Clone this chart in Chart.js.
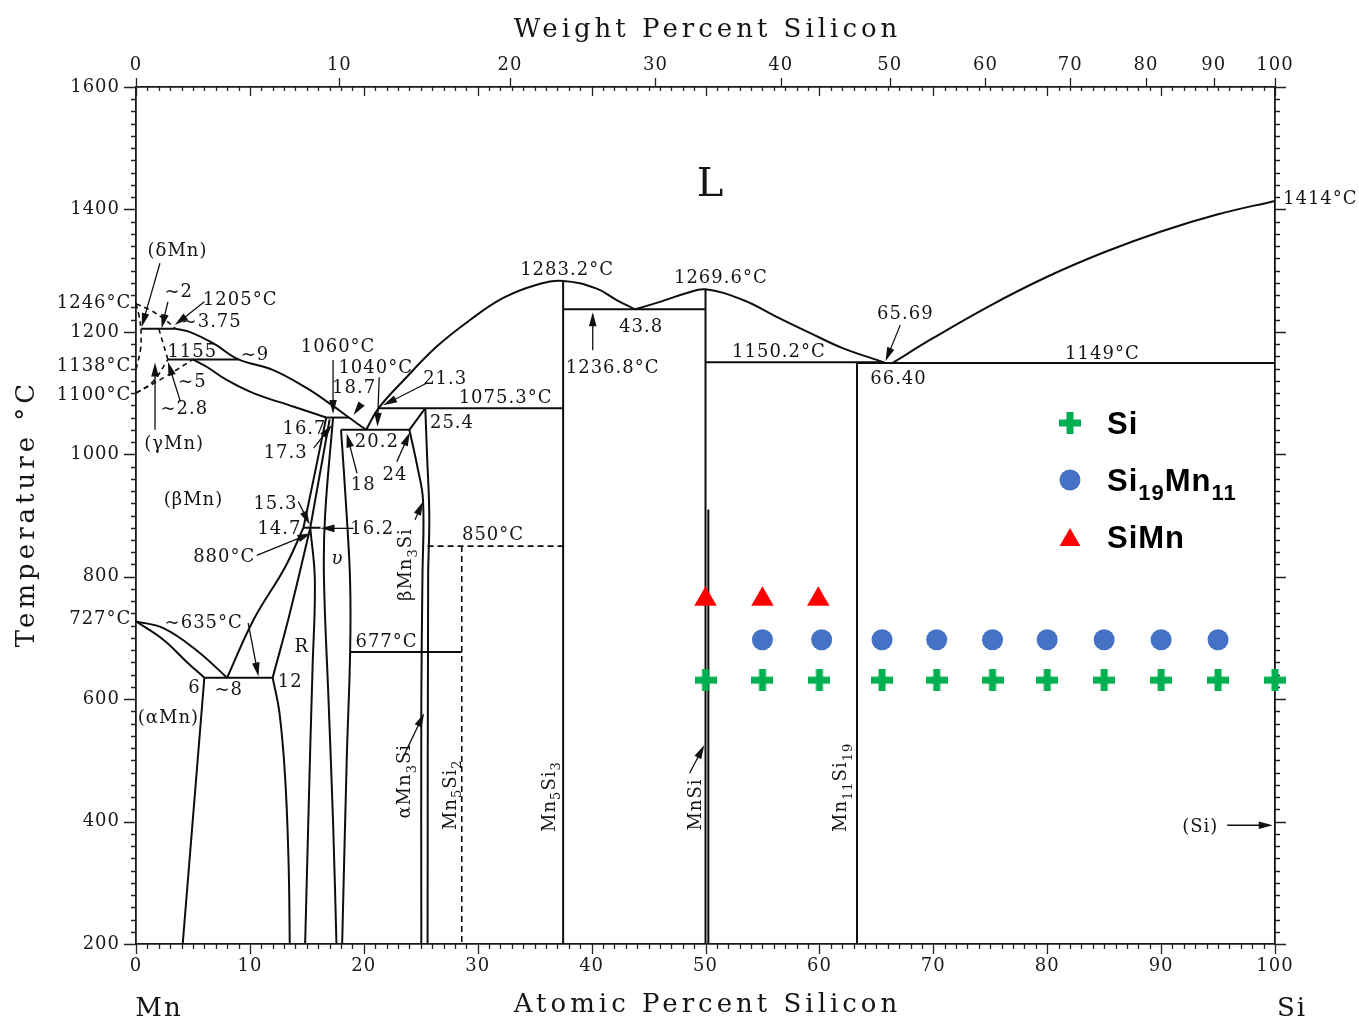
<!DOCTYPE html>
<html>
<head>
<meta charset="utf-8">
<title>Mn–Si phase diagram</title>
<script src="https://cdn.jsdelivr.net/npm/chart.js@4.4.1/dist/chart.umd.min.js"></script>
<style>
  html, body { margin: 0; padding: 0; background: #fff; }
  #wrap { width: 1359px; height: 1020px; }
</style>
</head>
<body>
<div id="wrap"><canvas id="c" width="1359" height="1020"></canvas></div>
<script>
// ---- axis tick values ----
const atTicks = [0, 10, 20, 30, 40, 50, 60, 70, 80, 90, 100];      // atomic % Si (bottom)
const wtTicks = [0, 10, 20, 30, 40, 50, 60, 70, 80, 90, 100];      // weight % Si (top)
const tempTicks = [200, 400, 600, 800, 1000, 1200, 1400, 1600];    // °C

// ---- measured phases (atomic % Si, °C) ----
const siAt = [50, 55, 60, 65.5, 70.3, 75.2, 80, 85, 90, 95, 100];
const siTemp = [631, 631, 631, 631, 631, 631, 631, 631, 631, 631, 631];
const si19mn11At = [55, 60.2, 65.5, 70.3, 75.2, 80, 85, 90, 95];
const si19mn11Temp = [697, 697, 697, 697, 697, 697, 697, 697, 697];
const simnAt = [50, 55, 59.9];
const simnTemp = [763, 763, 763];

// ---- liquidus ----
const liqMn = [[3.5,1205],[4.7,1200],[6.8,1181],[9.0,1155],[12.0,1138],[15.0,1108],[17.3,1079],[18.7,1060],[20.2,1040]];
const liqMn5Si3 = [[20.2,1040],[21.3,1075.3],[23.5,1121],[26.4,1176],[29.3,1219],[32.2,1255],[35.2,1277],[37.5,1283.2],[40.4,1271],[42.2,1252],[43.8,1236.8]];
const liqMnSi = [[43.8,1236.8],[46.0,1249],[48.3,1263],[50.0,1269.6],[53.3,1252],[56.2,1225],[59.2,1198],[62.1,1173],[65.69,1150.2]];
const liqSi = [[66.4,1149],[70,1190],[75,1243],[80,1290],[85,1330],[90,1364],[95,1392],[100,1414]];

// ---- invariant lines ----
const iso1236 = [[37.5,1236.8],[50,1236.8]];
const iso1150 = [[50,1150.2],[65.69,1150.2]];
const iso1149 = [[63.3,1149],[100,1149]];
const iso1075 = [[21.3,1075.3],[37.5,1075.3]];
const iso1060 = [[16.7,1060],[18.7,1060]];
const iso1040 = [[18.0,1040],[24.0,1040]];
const iso1205 = [[0.45,1205],[3.5,1205]];
const iso1155 = [[2.8,1155],[9.0,1155]];
const iso880 = [[14.7,880],[16.2,880]];
const iso677 = [[18.8,677],[28.6,677]];
const iso635 = [[6,635],[12,635]];
const iso850 = [[25.6,850],[37.5,850]];

// ---- compounds ----
const mn5si3 = [[37.5,1283.2],[37.5,200]];
const mnsiA = [[50,1269.6],[50,200]];
const mnsiB = [[50.25,910],[50.25,200]];
const mn11si19 = [[63.3,1150.2],[63.3,200]];
const siLine = [[100,1414],[100,200]];
const mn5si2 = [[28.6,850],[28.6,200]];
const mn3siTop = [[24.0,1040],[25.4,1075.3]];
const mn3siLeft = [[24.0,1040],[24.7,980],[25.2,925],[25.15,800],[25.05,600],[25.05,200]];
const mn3siRight = [[25.4,1075.3],[25.55,1000],[25.75,900],[25.65,800],[25.6,200]];

// ---- Mn-rich solid solutions ----
const betaSolidus = [[5.0,1155],[6.2,1143],[8.0,1121],[10.3,1100],[13.8,1078],[16.7,1060]];
const alphaUpper = [[0,727],[2.4,716],[5.3,680],[8,635]];
const alphaLower = [[0,727],[2.4,697],[4.5,660],[6,635]];
const alphaSolvus = [[6,635],[4.1,200]];
const betaToR = [[8,635],[10.3,729],[13.1,816],[14.7,880]];
const rUpper = [[12,635],[13.5,740],[15.3,880]];
const rLower = [[12,635],[12.6,577],[13.1,470],[13.4,330],[13.5,200]];
const rRight = [[15.3,880],[15.7,795],[15.5,650],[15.3,522],[14.85,200]];
const betaEdgeA = [[16.7,1060],[15.6,960],[14.7,880]];
const betaEdgeB = [[17.0,1057],[15.3,880]];
const nuLeft = [[17.3,1060],[16.6,900],[16.5,800],[16.9,600],[17.3,400],[17.6,200]];
const nuRight = [[18.0,1040],[18.5,900],[18.8,790],[18.8,677],[18.5,500],[18.1,200]];

// ---- uncertain (dashed) boundaries near pure Mn ----
const dLiqDelta = [[0,1246],[1.2,1236],[2.4,1222],[3.5,1205]];
const dSolDelta = [[0,1246],[0.25,1228],[0.45,1205]];
const dDeltaGamma = [[0.45,1205],[0.4,1172],[0,1138]];
const dGammaSol = [[2.0,1205],[2.4,1180],[2.8,1155]];
const dGammaLow = [[0,1100],[1.5,1119],[2.8,1155]];
const dBetaHigh = [[0,1100],[2.6,1127],[5.0,1155]];

// ---- text labels [text, at.% Si, °C, options] ----
const notes = [
  ['L', 50.4, 1445, {size: 40, ls: 0}],
  ['1414°C', 100.7, 1419, {align: 'left'}],
  ['1283.2°C', 37.8, 1304],
  ['1269.6°C', 51.3, 1291],
  ['65.69', 67.5, 1232],
  ['1150.2°C', 56.4, 1170],
  ['1149°C', 84.8, 1166],
  ['66.40', 66.9, 1125],
  ['43.8', 44.3, 1211],
  ['1236.8°C', 41.8, 1143],
  ['1075.3°C', 32.4, 1095],
  ['25.4', 27.7, 1053],
  ['21.3', 27.1, 1126],
  ['1040°C', 21.0, 1143],
  ['1060°C', 17.7, 1177],
  ['18.7', 19.1, 1110],
  ['20.2', 21.1, 1022],
  ['24', 22.7, 968],
  ['18', 19.9, 953],
  ['16.7', 14.75, 1043],
  ['17.3', 13.1, 1004],
  ['(δMn)', 3.6, 1335],
  ['1246°C', -0.5, 1249, {align: 'right'}],
  ['~2', 3.7, 1268],
  ['1205°C', 9.1, 1255],
  ['~3.75', 6.6, 1218],
  ['1155', 4.9, 1169],
  ['~9', 10.4, 1164],
  ['1138°C', -0.5, 1146, {align: 'right'}],
  ['1100°C', -0.5, 1100, {align: 'right'}],
  ['~5', 4.9, 1120],
  ['~2.8', 4.2, 1076],
  ['(γMn)', 3.3, 1020],
  ['(βMn)', 5.0, 927],
  ['15.3', 12.2, 922],
  ['14.7', 12.55, 880],
  ['16.2', 20.7, 880],
  ['880°C', 7.7, 834],
  ['υ', 17.65, 831, {italic: true}],
  ['βMn_{3}Si', 23.6, 819, {rot: -90}],
  ['850°C', 31.3, 870],
  ['727°C', -0.5, 733, {align: 'right'}],
  ['~635°C', 5.9, 726],
  ['R', 14.5, 687],
  ['677°C', 21.95, 695],
  ['6', 5.1, 621],
  ['~8', 8.1, 617],
  ['12', 13.5, 631],
  ['(αMn)', 2.8, 571],
  ['αMn_{3}Si', 23.5, 465, {rot: -90}],
  ['Mn_{5}Si_{2}', 27.5, 443, {rot: -90}],
  ['Mn_{5}Si_{3}', 36.2, 440, {rot: -90}],
  ['MnSi', 49.0, 427, {rot: -90}],
  ['Mn_{11}Si_{19}', 61.8, 455, {rot: -90}],
  ['(Si)', 93.4, 394]
];

// ---- leader arrows [from at.%, °C, to at.%, °C] ----
const pointers = [
  [2.1,1312, 0.5,1208],
  [2.8,1249, 2.25,1206],
  [6.0,1249, 3.4,1211],
  [3.9,1086, 2.8,1151],
  [1.67,1040, 1.67,1150],
  [17.3,1154, 17.3,1066],
  [21.35,1126, 21.2,1045],
  [19.7,1080, 19.1,1064],
  [25.5,1116, 21.7,1080],
  [15.6,1010, 17.2,1048],
  [19.4,969, 18.5,1034],
  [22.9,988, 24.05,1036],
  [24.5,893, 25.2,923],
  [14.25,923, 15.25,885],
  [19.1,879, 16.2,879],
  [10.6,835, 15.4,871],
  [9.85,724, 10.75,637],
  [23.6,511, 25.3,577],
  [48.6,479, 49.9,525],
  [40.1,1170, 40.1,1232],
  [67.1,1211, 65.8,1152],
  [95.8,394, 99.8,394]
];

const legendItems = [
  {label: 'Si', kind: 'plus'},
  {label: 'Si_{19}Mn_{11}', kind: 'circle', color: '#4472C4'},
  {label: 'SiMn', kind: 'triangle', color: '#FF0000'}
];

// weight % Si -> atomic % Si
const M_SI = 28.0855, M_MN = 54.938;
function wtToAt(w) {
  if (w <= 0) return 0;
  if (w >= 100) return 100;
  const a = w / M_SI, b = (100 - w) / M_MN;
  return 100 * a / (a + b);
}

// thick green plus used as a point style
function makePlus(color, size, thick) {
  const c = document.createElement('canvas');
  c.width = size; c.height = size;
  const g = c.getContext('2d');
  g.fillStyle = color;
  const o = (size - thick) / 2;
  g.fillRect(o, 0, thick, size);
  g.fillRect(0, o, size, thick);
  return c;
}
const plusImg = makePlus('#00B050', 22, 7);

const pts = (xs, ys) => xs.map((x, i) => ({x, y: ys[i]}));
function line(data, opts = {}) {
  return {
    data: data.map(([x, y]) => ({x, y})),
    showLine: true,
    pointRadius: 0,
    pointHoverRadius: 0,
    borderColor: '#0d0d0d',
    borderWidth: opts.width || 2,
    borderDash: opts.dash || [],
    tension: opts.tension || 0,
    fill: false
  };
}
const curve = d => line(d, {tension: 0.4});
const dashed = d => line(d, {tension: 0.4, dash: [5, 4], width: 1.6});

const datasets = [
  {label: 'SiMn', data: pts(simnAt, simnTemp), pointStyle: 'triangle', pointRadius: 13,
   backgroundColor: '#FF0000', borderWidth: 0, clip: false},
  {label: 'Si19Mn11', data: pts(si19mn11At, si19mn11Temp), pointStyle: 'circle', pointRadius: 10.5,
   backgroundColor: '#4472C4', borderWidth: 0, clip: false},
  {label: 'Si', data: pts(siAt, siTemp), pointStyle: plusImg, pointRadius: 11,
   borderWidth: 0, clip: false},

  curve(liqMn), curve(liqMn5Si3), curve(liqMnSi), curve(liqSi),
  line(iso1236), line(iso1150), line(iso1149), line(iso1075), line(iso1060), line(iso1040),
  line(iso1205), line(iso1155), line(iso880), line(iso677), line(iso635),
  line(iso850, {dash: [6, 4], width: 1.6}),
  line(mn5si3), line(mnsiA), line(mnsiB), line(mn11si19), line(siLine),
  line(mn5si2, {dash: [6, 4], width: 1.6}),
  line(mn3siTop), curve(mn3siLeft), curve(mn3siRight),
  curve(betaSolidus), curve(alphaUpper), curve(alphaLower), line(alphaSolvus),
  curve(betaToR), curve(rUpper), curve(rLower), curve(rRight),
  curve(betaEdgeA), line(betaEdgeB), curve(nuLeft), curve(nuRight),
  dashed(dLiqDelta), dashed(dSolDelta), dashed(dDeltaGamma),
  dashed(dGammaSol), dashed(dGammaLow), dashed(dBetaHigh)
];

// text with "_{...}" subscripts, optional rotation
function richText(ctx, str, x, y, o = {}) {
  const size = o.size || 18;
  const subSize = Math.round(size * 0.7);
  const fam = o.family || '"DejaVu Serif"';
  const style = (o.italic ? 'italic ' : '') + (o.bold ? 'bold ' : '');
  const ls = (o.ls === undefined ? 1 : o.ls);
  const parts = [];
  str.split(/(_\{[^}]*\})/).forEach(p => {
    if (!p) return;
    const m = p.match(/^_\{([^}]*)\}$/);
    parts.push(m ? {t: m[1], sub: true} : {t: p, sub: false});
  });
  ctx.save();
  ctx.translate(x, y);
  if (o.rot) ctx.rotate(o.rot * Math.PI / 180);
  ctx.letterSpacing = ls + 'px';
  ctx.textBaseline = 'alphabetic';
  ctx.textAlign = 'left';
  ctx.fillStyle = o.color || '#151515';
  let total = 0;
  parts.forEach(p => {
    ctx.font = style + (p.sub ? subSize : size) + 'px ' + fam;
    p.w = ctx.measureText(p.t).width;
    total += p.w;
  });
  total -= ls;
  const align = o.align || 'center';
  let cx = align === 'left' ? 0 : align === 'right' ? -total : -total / 2;
  const base = size * 0.36;
  const drop = o.subDrop !== undefined ? o.subDrop * size : size * 0.3;
  parts.forEach(p => {
    ctx.font = style + (p.sub ? subSize : size) + 'px ' + fam;
    ctx.fillText(p.t, cx, base + (p.sub ? drop : 0));
    cx += p.w;
  });
  ctx.restore();
}

function drawArrow(ctx, x1, y1, x2, y2) {
  const ang = Math.atan2(y2 - y1, x2 - x1), L = 14, W = 3.8;
  const c = Math.cos(ang), s = Math.sin(ang);
  ctx.beginPath();
  ctx.moveTo(x1, y1);
  ctx.lineTo(x2 - c * L * 0.8, y2 - s * L * 0.8);
  ctx.stroke();
  ctx.beginPath();
  ctx.moveTo(x2, y2);
  ctx.lineTo(x2 - L * c + W * s, y2 - L * s - W * c);
  ctx.lineTo(x2 - L * c - W * s, y2 - L * s + W * c);
  ctx.closePath();
  ctx.fill();
}

function drawAxisTicks(chart) {
  const {ctx, chartArea: a, scales: {x, y}} = chart;
  ctx.save();
  ctx.strokeStyle = '#222';
  ctx.lineWidth = 1.3;
  ctx.beginPath();
  for (let v = 0; v <= 100; v++) {
    const px = Math.round(x.getPixelForValue(v)) + 0.5;
    const major = v % 10 === 0;
    ctx.moveTo(px, a.bottom); ctx.lineTo(px, a.bottom + (major ? 10 : 5));
    ctx.moveTo(px, a.top); ctx.lineTo(px, a.top + (major ? 9 : 4));
  }
  wtTicks.forEach(w => {
    const px = Math.round(x.getPixelForValue(wtToAt(w))) + 0.5;
    ctx.moveTo(px, a.top); ctx.lineTo(px, a.top - 9);
  });
  for (let t = 200; t <= 1600; t += 20) {
    const py = Math.round(y.getPixelForValue(t)) + 0.5;
    const major = t % 200 === 0;
    ctx.moveTo(a.left, py); ctx.lineTo(a.left - (major ? 12 : 5), py);
    ctx.moveTo(a.right, py); ctx.lineTo(a.right + (major ? 11 : 5), py);
  }
  ctx.stroke();
  ctx.restore();
}

function drawTitles(chart) {
  const {ctx, chartArea: a} = chart;
  const mid = (a.left + a.right) / 2;
  const t = {size: 26, ls: 4};
  richText(ctx, 'Weight Percent Silicon', mid, a.top - 59, t);
  richText(ctx, 'Atomic Percent Silicon', mid, a.bottom + 59, t);
  richText(ctx, 'Mn', a.left + 22, a.bottom + 63, {size: 26, ls: 2});
  richText(ctx, 'Si', a.right + 16, a.bottom + 63, {size: 26, ls: 2});
  richText(ctx, 'Temperature °C', a.left - 111, (a.top + a.bottom) / 2, {size: 26, ls: 4, rot: -90});
}

function drawNotes(chart) {
  const {ctx, scales: {x, y}} = chart;
  notes.forEach(([txt, at, temp, o]) => {
    richText(ctx, txt, x.getPixelForValue(at), y.getPixelForValue(temp), Object.assign({size: 18}, o || {}));
  });
  ctx.save();
  ctx.strokeStyle = '#111';
  ctx.fillStyle = '#111';
  ctx.lineWidth = 1.3;
  pointers.forEach(([a1, t1, a2, t2]) => {
    drawArrow(ctx, x.getPixelForValue(a1), y.getPixelForValue(t1), x.getPixelForValue(a2), y.getPixelForValue(t2));
  });
  ctx.restore();
}

function drawLegend(chart) {
  const {ctx, chartArea: a} = chart;
  const x0 = a.right - 205, y0 = a.top + 336, dy = 57;
  legendItems.forEach((it, i) => {
    const cy = y0 + i * dy;
    ctx.save();
    if (it.kind === 'plus') {
      ctx.drawImage(plusImg, x0 - 11, cy - 11);
    } else if (it.kind === 'circle') {
      ctx.fillStyle = it.color;
      ctx.beginPath(); ctx.arc(x0, cy, 10.5, 0, 2 * Math.PI); ctx.fill();
    } else {
      const r = 12, c = cy + 3;
      ctx.fillStyle = it.color;
      ctx.beginPath();
      ctx.moveTo(x0, c - r);
      ctx.lineTo(x0 + r * 0.866, c + r / 2);
      ctx.lineTo(x0 - r * 0.866, c + r / 2);
      ctx.closePath(); ctx.fill();
    }
    ctx.restore();
    richText(ctx, it.label, x0 + 37, cy, {size: 31, bold: true, family: '"Liberation Sans"', align: 'left', ls: 1, subDrop: 0.27, color: '#000'});
  });
}

const deco = {
  id: 'deco',
  beforeDraw(chart) {
    const c = chart.ctx;
    c.save(); c.fillStyle = '#fff'; c.fillRect(0, 0, chart.width, chart.height); c.restore();
    c.letterSpacing = '1px';
  },
  beforeDatasetsDraw(chart) {
    drawAxisTicks(chart);
    drawTitles(chart);
    drawNotes(chart);
  },
  afterDraw(chart) {
    drawLegend(chart);
  }
};

const tickFont = {family: '"DejaVu Serif"', size: 18};
const borderOpt = {display: true, color: '#1a1a1a', width: 1.8};

new Chart(document.getElementById('c'), {
  type: 'scatter',
  data: {datasets},
  options: {
    responsive: false,
    animation: false,
    devicePixelRatio: 1,
    events: [],
    layout: {padding: 0},
    plugins: {legend: {display: false}, tooltip: {enabled: false}},
    scales: {
      x: {
        type: 'linear', position: 'bottom', min: 0, max: 100,
        afterBuildTicks: s => { s.ticks = atTicks.map(v => ({value: v})); },
        afterFit: s => { s.height = 76; },
        grid: {display: false, drawTicks: false},
        border: borderOpt,
        ticks: {padding: 12, font: tickFont, color: '#1a1a1a', maxRotation: 0, autoSkip: false,
                callback: (v, i) => String(atTicks[i])}
      },
      x2: {
        type: 'linear', position: 'top', min: 0, max: 100,
        afterBuildTicks: s => { s.ticks = wtTicks.map(w => ({value: wtToAt(w)})); },
        afterFit: s => { s.height = 87; },
        grid: {display: false, drawTicks: false},
        border: borderOpt,
        ticks: {padding: 11, font: tickFont, color: '#1a1a1a', maxRotation: 0, autoSkip: false,
                callback: (v, i) => String(wtTicks[i])}
      },
      y: {
        type: 'linear', position: 'left', min: 200, max: 1600,
        afterBuildTicks: s => { s.ticks = tempTicks.map(v => ({value: v})); },
        afterFit: s => { s.width = 136; },
        grid: {display: false, drawTicks: false},
        border: borderOpt,
        ticks: {padding: 16, font: tickFont, color: '#1a1a1a', autoSkip: false,
                callback: (v, i) => String(tempTicks[i])}
      },
      y2: {
        type: 'linear', position: 'right', min: 200, max: 1600,
        afterFit: s => { s.width = 84; },
        grid: {display: false, drawTicks: false},
        border: borderOpt,
        ticks: {display: false}
      }
    }
  },
  plugins: [deco]
});
</script>
</body>
</html>
